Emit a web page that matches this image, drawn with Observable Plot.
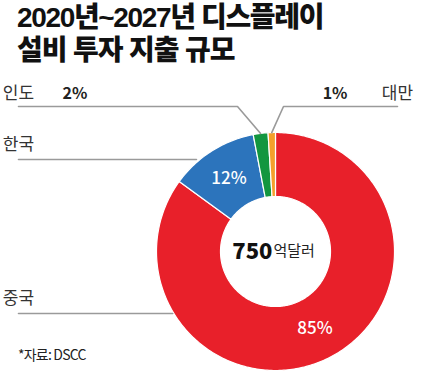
<!DOCTYPE html>
<html><head><meta charset="utf-8">
<script src="https://cdn.jsdelivr.net/npm/d3@7"></script>
<script src="https://cdn.jsdelivr.net/npm/@observablehq/plot@0.6"></script>
<style>
body{margin:0;background:#fff;width:442px;height:372px;overflow:hidden;position:relative;font-family:"Noto Sans CJK KR",sans-serif;}
.title{position:absolute;left:17px;font-family:"Liberation Sans","Noto Sans CJK KR",sans-serif;font-weight:900;font-size:28px;line-height:31px;color:#111;white-space:nowrap;}
#t1{top:2px;letter-spacing:-1.35px}
#t2{top:35px;letter-spacing:-1.1px}
#caption{position:absolute;left:18px;top:344px;font-size:14px;color:#222;letter-spacing:-0.8px}
#chart{position:absolute;left:0;top:72px;}
</style></head><body>
<div class="title" id="t1">2020년~2027년 디스플레이</div>
<div class="title" id="t2">설비 투자 지출 규모</div>
<div id="chart"></div>
<div id="caption">*자료: DSCC</div>
<script>
// ---- data ----
const regions = ["중국", "한국", "인도", "대만"];
const shares = [85, 12, 2, 1];
const colors = ["#e8202a", "#2c74bc", "#12963f", "#f4a02c"];
const totalValue = "750";
const totalUnit = "억달러";

// ---- layout ----
const W = 442, H = 300;
const CX = 275, CY = 179, R = 119;
const INNER = 55 / R;
const px = x => (x - CX) / R;
const py = y => (CY - y) / R;

const total = d3.sum(shares);
let cum = 0;
const slices = regions.map((r, i) => {
  const a0 = cum / total * 2 * Math.PI;
  cum += shares[i];
  const a1 = cum / total * 2 * Math.PI;
  return {region: r, share: shares[i], a0, a1, mid: (a0 + a1) / 2};
});

const poly = [];
for (const s of slices) {
  const n = Math.max(4, Math.ceil((s.a1 - s.a0) * 180 / Math.PI));
  for (let k = 0; k <= n; k++) {
    const a = s.a0 + (s.a1 - s.a0) * k / n;
    poly.push({region: s.region, x: Math.sin(a), y: Math.cos(a)});
  }
  for (let k = n; k >= 0; k--) {
    const a = s.a0 + (s.a1 - s.a0) * k / n;
    poly.push({region: s.region, x: INNER * Math.sin(a), y: INNER * Math.cos(a)});
  }
}

const sl = Object.fromEntries(slices.map(s => [s.region, s]));
const onArc = (s, r) => ({x: r * Math.sin(s.mid), y: r * Math.cos(s.mid)});
const edgeAtY = yy => -Math.sqrt(Math.max(0, 1 - yy * yy));

const leaders = [];
{
  const e = onArc(sl["인도"], 1.0);
  [{x: px(18), y: py(34)}, {x: px(237), y: py(34)}, e].forEach(p => leaders.push({k: "인도", ...p}));
}
{
  const e = onArc(sl["대만"], 1.0);
  [{x: px(397), y: py(34)}, {x: px(283), y: py(34)}, e].forEach(p => leaders.push({k: "대만", ...p}));
}
{
  const yy = py(87);
  [{x: px(18), y: yy}, {x: edgeAtY(yy) - 0.03, y: yy}].forEach(p => leaders.push({k: "한국", ...p}));
}
{
  const yy = py(241);
  [{x: px(18), y: yy}, {x: edgeAtY(yy) - 0.01, y: yy}].forEach(p => leaders.push({k: "중국", ...p}));
}

const nameLabels = [
  {t: "인도", x: px(18), y: py(21), a: "start"},
  {t: "대만", x: px(397), y: py(21), a: "end"},
  {t: "한국", x: px(18), y: py(72), a: "start"},
  {t: "중국", x: px(18), y: py(226), a: "start"}
];
const smallPct = [
  {t: shares[2] + "%", x: px(62), y: py(21), a: "start"},
  {t: shares[3] + "%", x: px(347), y: py(21), a: "end"}
];
const inPct = ["중국", "한국"].map(r => ({t: sl[r].share + "%", ...onArc(sl[r], 0.73)}));

const chart = Plot.plot({
  width: W, height: H, margin: 0,
  x: {domain: [-1, 1], range: [CX - R, CX + R], axis: null},
  y: {domain: [-1, 1], range: [CY + R, CY - R], axis: null},
  color: {domain: regions, range: colors},
  style: {fontFamily: '"Noto Sans CJK KR", sans-serif', overflow: "visible", background: "transparent"},
  marks: [
    Plot.line(poly, {x: "x", y: "y", z: "region", fill: "region", stroke: "white", strokeWidth: 1.2, curve: "linear-closed"}),
    Plot.line(leaders, {x: "x", y: "y", z: "k", stroke: "#9a9a9a", strokeWidth: 1.6}),
    Plot.text(nameLabels, {x: "x", y: "y", text: "t", textAnchor: d => d.a, fontSize: 17, fill: "#333", style: "letter-spacing:-1px"}),
    Plot.text(smallPct.filter(d => d.a === "start"), {x: "x", y: "y", text: "t", textAnchor: "start", fontSize: 16, fontWeight: 700, fill: "#222"}),
    Plot.text(smallPct.filter(d => d.a === "end"), {x: "x", y: "y", text: "t", textAnchor: "end", fontSize: 16, fontWeight: 700, fill: "#222"}),
    Plot.text(inPct, {x: "x", y: "y", text: "t", fontSize: 17, fontWeight: 500, fill: "white"}),
    Plot.text([totalValue], {x: px(272), y: 0, text: d => d, textAnchor: "end", fontSize: 22, fontWeight: 900, fill: "#111"}),
    Plot.text([totalUnit], {x: px(273), y: 0, text: d => d, textAnchor: "start", fontSize: 15, fill: "#222"})
  ]
});
document.getElementById("chart").appendChild(chart);
</script>
</body></html>
